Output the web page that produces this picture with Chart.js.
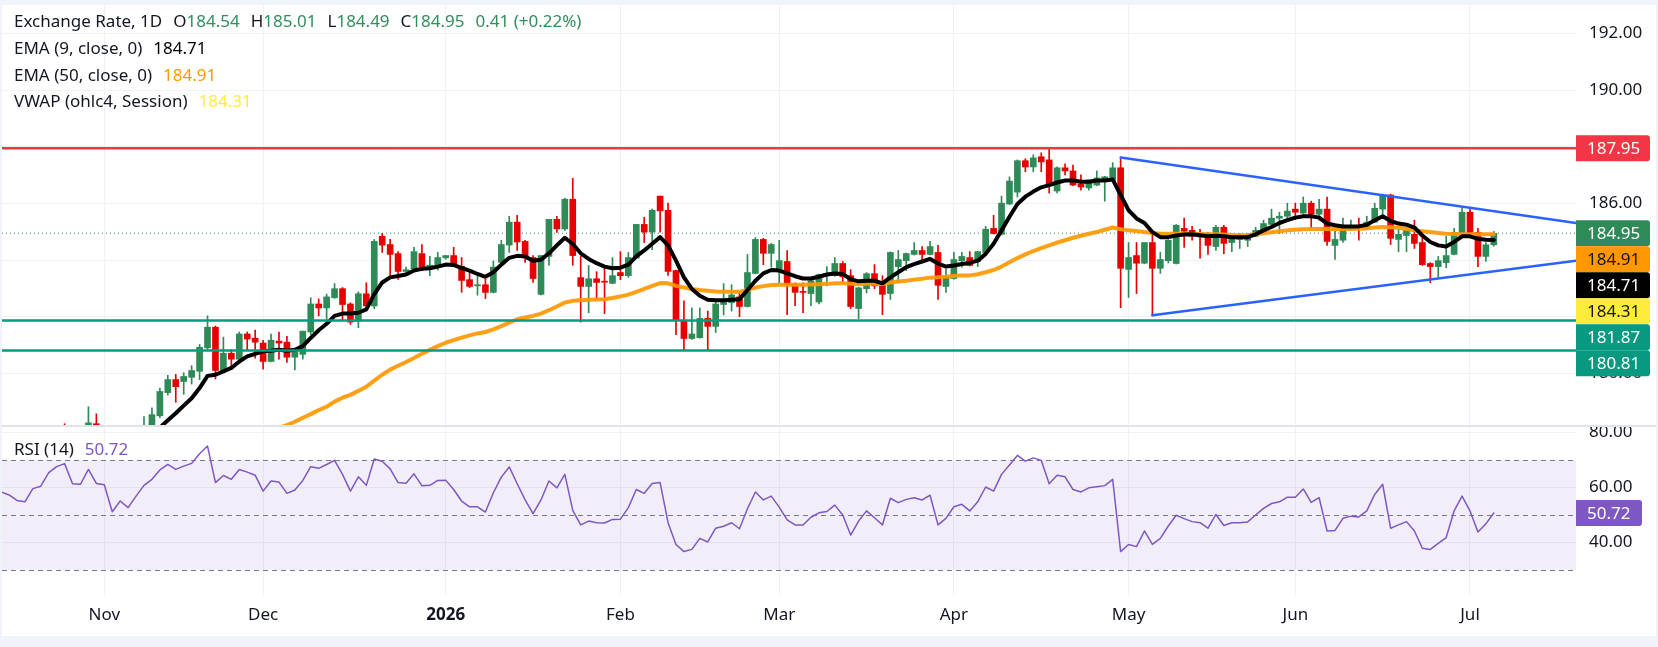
<!DOCTYPE html>
<html>
<head>
<meta charset="utf-8">
<script src="https://cdn.jsdelivr.net/npm/chart.js@4.4.1/dist/chart.umd.min.js"></script>
<style>
  body { margin:0; background:#f0f3fa; width:1658px; height:647px; overflow:hidden; }
  #box { position:absolute; left:2px; top:5px; width:1654px; height:631px; background:#fff; overflow:hidden; }
  #box canvas { position:absolute; left:0; }
  #sep { position:absolute; left:0; top:420px; width:1654px; height:2px; background:#e0e3eb; }
  .leg { position:absolute; left:12px; font:17px 'Noto Sans', sans-serif; color:#131722; white-space:nowrap; line-height:20px; }
  .gap { display:inline-block; width:11px; }
  .up { color:#2f8f5b; }
</style>
</head>
<body>
<div id="box">
  <canvas id="main" width="1654" height="421" style="top:0"></canvas>
  <canvas id="rsi" width="1654" height="210" style="top:421px"></canvas>
  <div id="sep"></div>
  <div class="leg" style="top:6px">Exchange Rate, 1D<span class="gap"></span>O<span class="up" id="vO"></span><span class="gap"></span>H<span class="up" id="vH"></span><span class="gap"></span>L<span class="up" id="vL"></span><span class="gap"></span>C<span class="up" id="vC"></span><span class="gap"></span><span class="up" id="vChg"></span></div>
  <div class="leg" style="top:33px">EMA (9, close, 0)<span class="gap"></span><span id="vE9" style="color:#000"></span></div>
  <div class="leg" style="top:60px">EMA (50, close, 0)<span class="gap"></span><span id="vE50" style="color:#ff9800"></span></div>
  <div class="leg" style="top:86px">VWAP (ohlc4, Session)<span class="gap"></span><span id="vVw" style="color:#ffeb3b"></span></div>
  <div class="leg" style="top:434px">RSI (14)<span class="gap"></span><span id="vRsi" style="color:#7e57c2"></span></div>
</div>
<script>
// daily bars, index 0 = 15 Oct 2025 ... 188 = 6 Jul 2026
const monthTickIdx = [13, 33, 56, 78, 98, 120, 142, 163, 185];
const monthLabels = ['Nov', 'Dec', '2026', 'Feb', 'Mar', 'Apr', 'May', 'Jun', 'Jul'];
const priceTicks = [180, 182, 184, 186, 188, 190, 192];
const rsiTicks = [40, 60, 80];

const opens = [177.2,177.4,177.6,177.3,177.5,177.8,177.6,177.7,177.8,177.7,
 177.5,177.6,178.22,177.8,177.5,177.2,177.4,177.6,177.5,178.0,
 178.50,179.32,179.78,179.71,179.86,180.07,180.90,181.63,180.10,180.71,
 180.50,181.39,181.24,181.07,180.42,181.14,181.10,180.57,180.67,181.46,
 182.45,182.31,182.67,182.99,182.45,181.84,182.81,182.38,184.84,184.55,
 184.23,183.60,183.69,184.23,183.77,183.78,184.08,184.16,183.78,183.31,
 183.09,183.13,182.86,183.92,184.53,185.34,184.66,184.09,182.79,184.13,
 185.44,185.10,186.15,183.38,183.07,183.34,183.25,183.18,183.56,183.45,
 184.07,185.26,184.99,186.26,185.76,183.63,181.87,181.23,181.26,181.94,
 181.66,182.43,182.50,182.70,182.36,183.53,184.73,184.24,183.63,183.95,
 183.16,182.89,182.82,182.52,183.45,183.45,183.88,183.45,182.29,182.99,
 183.52,183.13,182.82,183.77,183.98,184.20,184.34,184.20,184.27,183.07,
 183.35,183.98,184.09,183.95,184.27,185.12,184.91,185.98,186.40,187.51,
 187.29,187.65,187.54,186.44,187.26,187.15,186.69,186.55,186.65,186.79,
 186.83,187.26,183.67,184.16,183.89,184.62,183.71,183.98,183.88,185.12,
 185.05,184.86,184.80,184.48,185.16,184.62,184.73,184.70,184.84,185.02,
 185.26,185.48,185.55,185.80,185.66,186.01,185.62,185.80,184.52,184.70,
 185.09,185.23,185.12,185.34,185.80,186.30,184.73,184.87,184.91,184.62,
 183.88,183.77,183.91,184.20,184.94,185.69,184.98,184.13,184.54];
const highs = [177.6,177.8,177.9,177.7,178.0,177.9,177.9,178.0,178.22,177.9,
 177.8,178.82,178.57,178.0,177.8,177.6,177.8,177.9,178.47,178.78,
 179.48,179.93,179.96,180.02,180.27,181.02,182.03,181.67,181.28,180.84,
 181.46,181.46,181.53,181.17,181.39,181.46,181.31,180.88,181.49,182.67,
 182.63,182.80,183.17,183.03,182.49,182.88,183.20,184.73,184.94,184.73,
 184.30,183.75,184.45,184.55,184.13,184.27,184.16,184.45,184.09,183.66,
 183.43,183.32,183.97,184.70,185.55,185.58,184.70,184.16,184.16,185.44,
 185.55,186.19,186.89,184.13,183.81,183.59,183.75,184.09,184.30,184.27,
 185.26,185.51,185.80,186.26,186.01,183.65,182.56,182.31,182.31,182.20,
 182.56,183.17,183.13,182.84,184.20,184.80,184.77,184.59,184.70,184.34,
 183.20,183.20,183.29,183.51,183.77,184.09,183.95,183.66,183.04,183.56,
 183.84,183.45,184.29,184.34,184.25,184.62,184.48,184.66,184.52,183.68,
 184.27,184.27,184.30,184.30,185.19,185.58,186.26,186.94,187.54,187.58,
 187.72,187.79,187.96,187.29,187.40,187.36,187.01,186.83,187.15,186.96,
 187.44,187.58,184.62,184.62,184.62,185.05,184.27,184.72,185.26,185.48,
 185.19,185.09,184.98,185.23,185.23,184.84,184.94,184.94,185.16,185.41,
 185.80,185.69,186.01,186.01,186.23,186.08,186.15,186.23,185.02,185.48,
 185.41,185.48,185.55,186.01,186.33,186.33,185.09,185.07,185.41,184.80,
 183.91,184.13,184.84,185.12,185.87,185.80,185.12,184.62,185.01];
const lows = [176.9,177.1,177.2,177.0,177.3,177.4,177.3,177.5,177.5,177.3,
 177.2,177.5,177.6,177.3,177.0,176.9,177.2,177.3,177.4,177.9,
 178.43,179.23,178.98,179.26,179.62,179.78,180.85,179.80,180.05,180.14,
 180.34,180.82,180.54,180.15,180.40,180.50,180.39,180.12,180.50,181.37,
 182.03,181.91,182.65,181.87,181.73,181.61,182.36,182.28,184.27,183.45,
 183.32,183.50,183.63,183.63,183.45,183.65,184.03,183.77,182.86,183.03,
 182.76,182.64,182.84,183.86,184.27,184.34,183.92,183.21,182.77,183.82,
 184.98,185.05,183.82,181.81,182.14,182.64,182.11,183.16,183.31,183.39,
 184.05,184.62,184.37,184.99,183.46,181.37,180.82,181.20,181.24,180.82,
 181.44,182.06,182.20,182.00,182.34,183.51,183.84,183.75,183.14,182.07,
 182.39,182.14,182.39,182.45,183.09,183.43,183.24,182.29,181.93,182.84,
 182.99,182.07,182.61,183.21,183.63,184.18,183.98,184.18,182.61,182.86,
 183.33,183.75,183.79,183.77,184.25,184.92,184.89,185.96,186.23,187.12,
 187.12,187.12,186.37,186.37,187.01,186.63,186.47,186.47,186.63,186.08,
 186.81,182.32,182.68,182.82,183.87,182.03,183.53,183.90,183.86,184.45,
 184.70,184.07,184.20,184.34,184.23,184.30,184.41,184.48,184.82,184.98,
 185.23,184.94,185.41,185.44,185.64,185.12,185.41,184.52,184.02,184.62,
 185.07,184.70,185.10,185.32,185.62,184.55,184.30,184.30,184.41,183.81,
 183.20,183.41,183.73,184.18,184.92,184.91,183.77,183.95,184.49];
const closes = [177.4,177.6,177.3,177.5,177.8,177.6,177.7,177.8,177.7,177.5,
 177.6,178.25,177.8,177.5,177.2,177.4,177.6,177.5,178.11,178.54,
 179.36,179.78,179.53,179.89,180.10,180.92,181.63,180.10,180.71,180.50,
 181.39,181.21,181.10,180.42,181.17,181.07,180.57,180.85,181.49,182.45,
 182.31,182.70,182.99,182.43,181.81,182.81,182.38,184.66,184.53,184.20,
 183.60,183.66,184.30,183.75,183.82,184.09,184.16,183.81,183.28,183.07,
 183.13,182.86,183.75,184.55,185.34,184.64,184.10,183.35,184.16,185.44,
 185.10,186.15,184.16,183.07,183.34,183.21,183.22,183.45,183.45,184.09,
 185.26,184.99,185.76,185.74,183.60,181.87,181.23,181.39,181.94,181.66,
 182.45,182.52,182.77,182.36,183.56,184.73,184.24,184.55,183.98,183.13,
 182.86,182.86,183.27,183.49,183.52,183.88,183.41,182.36,183.02,183.52,
 183.09,182.79,184.27,184.02,184.23,184.34,184.20,184.48,183.11,183.39,
 184.02,184.13,183.81,184.30,185.09,184.94,186.01,186.79,187.51,187.29,
 187.61,187.47,186.62,187.26,187.15,186.65,186.58,186.83,186.90,186.94,
 187.26,183.71,184.09,183.89,184.62,183.71,184.02,184.70,185.23,185.02,
 184.84,184.82,184.52,185.16,184.59,184.77,184.77,184.85,185.05,185.29,
 185.48,185.55,185.73,185.69,186.01,185.62,185.80,184.66,184.73,185.12,
 185.23,185.16,185.34,185.83,186.30,184.77,184.91,185.05,184.59,183.84,
 183.77,183.98,184.16,184.98,185.69,184.94,184.13,184.54,184.95];

const ema9 = Array(19).fill(null).concat([
 177.70,178.08,178.34,178.59,178.86,179.12,179.48,179.91,179.95,180.07,180.19,
 180.42,180.60,180.69,180.78,180.80,180.83,180.80,180.83,180.96,181.25,
 181.52,181.75,182.03,182.11,182.11,182.14,182.26,182.80,183.21,183.39,
 183.44,183.49,183.63,183.69,183.71,183.77,183.84,183.83,183.72,183.63,
 183.51,183.41,183.57,183.84,184.08,184.15,184.13,183.98,184.01,184.24,
 184.52,184.79,184.57,184.24,184.04,183.89,183.77,183.71,183.73,183.84,
 184.13,184.34,184.58,184.81,184.52,183.98,183.39,182.98,182.74,182.60,
 182.58,182.58,182.60,182.62,182.94,183.27,183.53,183.65,183.63,183.53,
 183.43,183.35,183.35,183.41,183.49,183.53,183.51,183.33,183.25,183.27,
 183.27,183.18,183.39,183.57,183.75,183.86,183.95,184.04,183.88,183.77,
 183.81,183.86,183.90,183.98,184.22,184.58,185.05,185.53,185.98,186.24,
 186.42,186.57,186.65,186.74,186.81,186.81,186.77,186.77,186.81,186.81,
 186.85,186.30,185.76,185.47,185.31,184.99,184.81,184.81,184.87,184.90,
 184.91,184.88,184.84,184.86,184.84,184.81,184.81,184.81,184.91,185.05,
 185.17,185.31,185.41,185.50,185.55,185.55,185.50,185.29,185.23,185.19,
 185.19,185.19,185.25,185.41,185.55,185.38,185.29,185.25,185.15,184.87,
 184.64,184.52,184.48,184.64,184.84,184.84,184.75,184.72,184.71]);
const ema50 = Array(34).fill(null).concat([
 177.95,178.08,178.17,178.29,178.43,178.56,
 178.70,178.82,179.00,179.14,179.24,179.38,179.53,179.74,179.95,180.13,
 180.27,180.40,180.54,180.69,180.83,180.96,181.08,181.17,181.26,181.34,
 181.41,181.46,181.55,181.67,181.79,181.91,181.97,182.03,182.11,182.23,
 182.36,182.50,182.56,182.58,182.60,182.61,182.62,182.66,182.72,182.78,
 182.88,182.98,183.09,183.19,183.18,183.09,183.03,182.98,182.94,182.92,
 182.89,182.88,182.88,182.88,182.94,183.03,183.08,183.12,183.13,183.13,
 183.13,183.13,183.14,183.15,183.16,183.18,183.18,183.16,183.15,183.16,
 183.16,183.15,183.21,183.24,183.27,183.31,183.34,183.38,183.39,183.41,
 183.44,183.46,183.46,183.50,183.57,183.65,183.77,183.92,184.07,184.20,
 184.32,184.42,184.52,184.62,184.70,184.79,184.86,184.93,184.99,185.07,
 185.15,185.09,185.05,185.03,184.99,184.96,184.93,184.93,184.93,184.93,
 184.92,184.92,184.91,184.91,184.90,184.89,184.88,184.88,184.91,184.95,
 184.98,185.02,185.05,185.07,185.09,185.10,185.10,185.10,185.10,185.10,
 185.10,185.11,185.12,185.15,185.17,185.16,185.14,185.10,185.05,185.02,
 184.99,184.96,184.93,184.92,184.91,184.91,184.91,184.91,184.91]);
const rsi = [58.4,57.3,55.3,54.8,59.6,60.5,65.4,67.6,68.7,61.4,
 61.2,66.6,61.5,61.0,51.2,55.1,52.7,56.9,60.8,63.0,
 66.4,68.4,66.6,67.8,68.8,72.3,75.1,61.8,64.4,63.0,
 66.6,65.6,64.5,58.7,62.4,62.0,57.9,59.1,62.6,67.6,
 67.0,68.4,69.9,64.8,58.7,63.9,60.8,70.4,69.6,66.8,
 61.8,61.6,65.0,60.7,60.8,62.6,62.7,59.3,55.1,53.0,
 53.0,51.1,58.1,63.8,67.5,61.4,55.5,50.5,55.5,62.4,
 59.9,64.8,51.7,46.4,47.8,47.2,47.1,48.4,48.5,52.7,
 59.3,57.9,61.5,61.8,47.2,39.3,36.7,37.5,41.5,40.2,
 45.2,45.9,47.2,45.0,52.3,58.4,55.5,56.9,52.9,48.2,
 46.4,46.4,49.2,50.8,51.3,53.6,50.0,42.7,47.8,51.5,
 49.0,46.4,56.1,54.5,55.7,56.3,55.5,57.2,46.4,48.8,
 53.0,53.9,51.5,54.8,60.2,58.7,64.8,68.2,71.7,69.6,
 70.8,69.9,61.4,64.5,63.9,59.3,58.4,59.9,60.3,60.7,
 63.0,36.7,39.3,38.5,44.2,39.3,41.5,46.0,49.9,48.7,
 47.6,47.2,45.2,50.2,46.2,47.2,47.2,47.5,50.0,52.4,
 54.2,54.8,56.5,56.5,59.5,54.6,56.3,44.2,44.4,48.8,
 49.6,49.3,51.5,57.5,61.2,45.2,46.4,47.6,44.2,37.9,
 37.5,39.7,41.8,51.5,56.9,51.5,43.8,46.8,50.72];

const resistance = 187.95;
const supports = [181.87, 180.81];
const upperTrend = [[141, 187.62], [198.35, 185.31]];
const lowerTrend = [[145, 182.05], [198.35, 183.98]];
const vwapLast = 184.31;

// ---- view ----
const xMin = 0.116, xMax = 198.35;
const GREEN = '#2e8a57', RED = '#e60000';
const gridColor = '#f0f1f4';
const FS = 17;
Chart.defaults.font.family = "'Noto Sans', sans-serif";

const last = closes.length - 1;
const up = i => closes[i] >= opens[i];
const candleColor = c => up(c.dataIndex) ? GREEN : RED;
const bodies = closes.map((c, i) => ({x: i, y: [Math.min(opens[i], c), Math.max(opens[i], c)]}));
const wicks = closes.map((c, i) => ({x: i, y: [lows[i], highs[i]]}));
const series = arr => arr.map((v, i) => ({x: i, y: v})).filter(p => p.y !== null);
const flat = v => [{x: xMin, y: v}, {x: xMax, y: v}];
const seg = pts => pts.map(p => ({x: p[0], y: p[1]}));
const lineDs = (data, color, width, extra) => Object.assign({type: 'line', data, borderColor: color,
  borderWidth: width, pointRadius: 0, tension: 0, borderJoinStyle: 'round', borderCapStyle: 'round'}, extra || {});

document.getElementById('vO').textContent = opens[last].toFixed(2);
document.getElementById('vH').textContent = highs[last].toFixed(2);
document.getElementById('vL').textContent = lows[last].toFixed(2);
document.getElementById('vC').textContent = closes[last].toFixed(2);
const chg = closes[last] - closes[last - 1];
document.getElementById('vChg').textContent = chg.toFixed(2) + ' (+' + (chg / closes[last - 1] * 100).toFixed(2) + '%)';
document.getElementById('vE9').textContent = ema9[last].toFixed(2);
document.getElementById('vE50').textContent = ema50[last].toFixed(2);
document.getElementById('vVw').textContent = vwapLast.toFixed(2);
document.getElementById('vRsi').textContent = rsi[last].toFixed(2);

function tagBox(ctx, x, y, w, h, bg, fg, text) {
  ctx.fillStyle = bg;
  ctx.beginPath();
  ctx.roundRect(x, y, w, h, [0, 3, 3, 0]);
  ctx.fill();
  ctx.fillStyle = fg;
  ctx.font = FS + "px 'Noto Sans', sans-serif";
  ctx.textAlign = 'left';
  ctx.textBaseline = 'middle';
  ctx.fillText(text, x + 11, y + h / 2 + 1);
}

const priceTags = {
  id: 'priceTags',
  afterDraw(chart) {
    const {ctx, chartArea, scales: {y}} = chart;
    const tags = [
      {v: resistance, bg: '#f23645', fg: '#fff'},
      {v: closes[last], bg: GREEN, fg: '#fff'},
      {v: ema50[last], bg: '#ff9800', fg: '#131722'},
      {v: ema9[last], bg: '#000', fg: '#fff'},
      {v: vwapLast, bg: '#ffeb3b', fg: '#131722'},
      {v: supports[0], bg: '#089981', fg: '#fff'},
      {v: supports[1], bg: '#089981', fg: '#fff'}
    ];
    const h = 26;
    let prev = -1e9;
    ctx.save();
    tags.forEach(t => {
      let top = y.getPixelForValue(t.v) - h / 2;
      if (top < prev) top = prev;
      prev = top + h;
      tagBox(ctx, chartArea.right, top, 74, h, t.bg, t.fg, t.v.toFixed(2));
    });
    ctx.restore();
  }
};

const xScale = extra => Object.assign({
  type: 'linear', min: xMin, max: xMax, offset: false,
  grid: {color: gridColor, drawTicks: false, offset: false},
  border: {display: false},
  afterBuildTicks: s => { s.ticks = monthTickIdx.map(v => ({value: v})); }
}, extra);

new Chart(document.getElementById('main'), {
  type: 'bar',
  data: {
    datasets: [
      lineDs(flat(resistance), '#f23645', 2.5),
      lineDs(flat(supports[0]), '#089981', 2.5),
      lineDs(flat(supports[1]), '#089981', 2.5),
      lineDs(seg(upperTrend), '#2962ff', 2.5),
      lineDs(seg(lowerTrend), '#2962ff', 2.5),
      lineDs(series(ema9), '#000000', 4),
      lineDs(series(ema50), 'rgba(255,152,0,0.92)', 4),
      {type: 'bar', data: bodies, backgroundColor: candleColor, barThickness: 6, grouped: false,
       minBarLength: 1, borderWidth: 0, borderSkipped: false},
      {type: 'bar', data: wicks, backgroundColor: candleColor, barThickness: 1, grouped: false,
       borderWidth: 0, borderSkipped: false},
      lineDs(flat(closes[last]), GREEN, 1, {borderDash: [1, 3], borderCapStyle: 'butt'})
    ]
  },
  options: {
    responsive: false, animation: false, devicePixelRatio: 1, events: [],
    layout: {padding: 0},
    plugins: {legend: {display: false}, tooltip: {enabled: false}},
    scales: {
      x: xScale({
        ticks: {display: false},
        afterFit: s => { s.height = 0; s.paddingLeft = 0; s.paddingRight = 0; }
      }),
      y: {
        position: 'right', min: 178.14, max: 193.01,
        grid: {color: gridColor, drawTicks: false}, border: {display: false},
        ticks: {padding: 13, color: '#131722', font: {size: FS}, callback: v => Number(v).toFixed(2)},
        afterBuildTicks: s => { s.ticks = priceTicks.map(v => ({value: v})); },
        afterFit: s => { s.width = 80; s.paddingTop = 0; s.paddingBottom = 0; }
      }
    }
  },
  plugins: [priceTags]
});

const rsiBand = {
  id: 'rsiBand',
  beforeDatasetsDraw(chart) {
    const {ctx, chartArea: a, scales: {y}} = chart;
    const y70 = y.getPixelForValue(70), y30 = y.getPixelForValue(30);
    ctx.save();
    ctx.fillStyle = 'rgba(126,87,194,0.1)';
    ctx.fillRect(a.left, y70, a.right - a.left, y30 - y70);
    ctx.strokeStyle = '#787b86';
    ctx.lineWidth = 1;
    ctx.setLineDash([5, 4]);
    [70, 50, 30].forEach(v => {
      const py = Math.round(y.getPixelForValue(v)) + 0.5;
      ctx.beginPath();
      ctx.moveTo(a.left, py);
      ctx.lineTo(a.right, py);
      ctx.stroke();
    });
    ctx.restore();
  },
  afterDraw(chart) {
    const {ctx, chartArea: a, scales: {y}} = chart;
    ctx.save();
    tagBox(ctx, a.right, y.getPixelForValue(rsi[last]) - 13, 66, 26, '#7e57c2', '#fff', rsi[last].toFixed(2));
    ctx.restore();
  }
};

new Chart(document.getElementById('rsi'), {
  type: 'line',
  data: {datasets: [lineDs(series(rsi), '#7e57c2', 1.5)]},
  options: {
    responsive: false, animation: false, devicePixelRatio: 1, events: [],
    layout: {padding: 0},
    plugins: {legend: {display: false}, tooltip: {enabled: false}},
    scales: {
      x: xScale({
        ticks: {
          padding: 10, color: '#131722', maxRotation: 0, autoSkip: false,
          font: c => ({size: FS, weight: monthLabels[c.index] === '2026' ? 'bold' : 'normal'}),
          callback: (v, i) => monthLabels[i]
        },
        afterFit: s => { s.height = 41; s.paddingLeft = 0; s.paddingRight = 0; }
      }),
      y: {
        position: 'right', min: 20.9, max: 82.4,
        grid: {color: gridColor, drawTicks: false}, border: {display: false},
        ticks: {padding: 13, color: '#131722', font: {size: FS}, callback: v => Number(v).toFixed(2)},
        afterBuildTicks: s => { s.ticks = rsiTicks.map(v => ({value: v})); },
        afterFit: s => { s.width = 80; s.paddingTop = 0; s.paddingBottom = 0; }
      }
    }
  },
  plugins: [rsiBand]
});
</script>
</body>
</html>
